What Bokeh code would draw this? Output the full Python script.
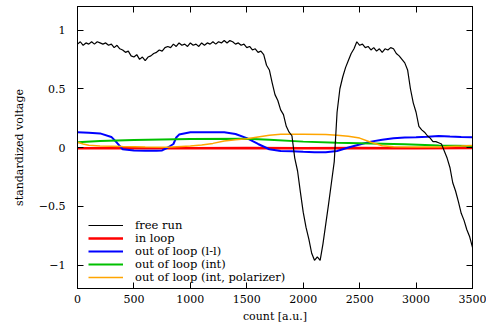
from bokeh.plotting import figure
from bokeh.models import Range1d, FixedTicker, LinearAxis, Legend, LegendItem
from bokeh.embed import file_html
from bokeh.resources import INLINE

# ---- data ----
free_x = list(range(0, 3501, 25))
free_y = [0.88, 0.90, 0.87, 0.89, 0.88, 0.90, 0.88, 0.90, 0.89, 0.88,
          0.89, 0.87, 0.88, 0.85, 0.87, 0.84, 0.83, 0.81, 0.82, 0.78,
          0.77, 0.79, 0.75, 0.77, 0.74, 0.77, 0.78, 0.80, 0.81, 0.83,
          0.82, 0.85, 0.86, 0.85, 0.88, 0.86, 0.89, 0.87, 0.88, 0.86,
          0.89, 0.87, 0.88, 0.86, 0.89, 0.87, 0.89, 0.88, 0.90, 0.88,
          0.90, 0.89, 0.91, 0.89, 0.91, 0.90, 0.88, 0.89, 0.87, 0.88,
          0.85, 0.86, 0.83, 0.84, 0.81, 0.82, 0.79, 0.70, 0.66, 0.55,
          0.45, 0.40, 0.32, 0.28, 0.18, 0.13, 0.10, -0.09, -0.20, -0.38,
          -0.55, -0.68, -0.78, -0.90, -0.96, -0.93, -0.96, -0.82, -0.65, -0.48,
          -0.30, -0.12, 0.30, 0.50, 0.60, 0.68, 0.74, 0.80, 0.84, 0.90,
          0.87, 0.88, 0.85, 0.86, 0.83, 0.85, 0.82, 0.84, 0.81, 0.84,
          0.83, 0.85, 0.84, 0.80, 0.78, 0.75, 0.72, 0.66, 0.50, 0.38,
          0.30, 0.18, 0.15, 0.13, 0.10, 0.08, 0.05, 0.05, 0.04, 0.03,
          -0.03, -0.09, -0.17, -0.30, -0.37, -0.46, -0.56, -0.62, -0.70, -0.76,
          -0.85]

inloop_x = [0, 500, 1000, 1500, 2000, 2500, 3000, 3500]
inloop_y = [-0.006, -0.007, -0.006, -0.005, -0.006, -0.005, -0.006, -0.005]

ll_x = [0, 100, 200, 300, 350, 400, 500, 600, 700, 750, 800, 850, 875, 900,
        1000, 1100, 1200, 1300, 1400, 1500, 1600, 1700, 1800, 1900, 2000,
        2100, 2200, 2300, 2400, 2500, 2600, 2700, 2800, 2900, 3000, 3100,
        3200, 3300, 3400, 3500]
ll_y = [0.13, 0.125, 0.12, 0.09, 0.04, -0.015, -0.025, -0.027, -0.028, -0.025,
        0.0, 0.03, 0.085, 0.11, 0.13, 0.13, 0.13, 0.13, 0.115, 0.08, 0.03,
        -0.015, -0.03, -0.032, -0.037, -0.04, -0.04, -0.03, 0.0, 0.025, 0.05,
        0.065, 0.078, 0.085, 0.088, 0.092, 0.097, 0.093, 0.09, 0.088]

int_x = [0, 200, 500, 1000, 1500, 1700, 2000, 2300, 2600, 2900, 3200, 3500]
int_y = [0.045, 0.055, 0.063, 0.072, 0.074, 0.065, 0.05, 0.04, 0.033, 0.027,
         0.018, 0.012]

pol_x = [0, 50, 100, 200, 400, 600, 800, 1000, 1100, 1200, 1300, 1400, 1500,
         1600, 1700, 1800, 2000, 2200, 2300, 2400, 2500, 2600, 2700, 2800,
         3000, 3200, 3400, 3500]
pol_y = [0.045, 0.03, 0.02, 0.013, 0.008, 0.005, 0.003, 0.012, 0.022, 0.035,
         0.055, 0.065, 0.075, 0.09, 0.105, 0.112, 0.112, 0.11, 0.105, 0.095,
         0.08, 0.045, 0.015, 0.007, 0.004, 0.005, 0.012, 0.018]

labels = ["free run", "in loop", "out of loop (l-l)", "out of loop (int)",
          "out of loop (int, polarizer)"]
x_ticks = [0, 500, 1000, 1500, 2000, 2500, 3000, 3500]
y_ticks = [-1, -0.5, 0, 0.5, 1]
y_tick_labels = {-1: "\u22121", -0.5: "\u22120.5", 0: "0", 0.5: "0.5", 1: "1"}

FONT = "DejaVu Serif"

p = figure(width=486, height=327, output_backend="svg", toolbar_location=None,
           x_range=Range1d(0, 3500), y_range=Range1d(-1.2, 1.2),
           min_border_left=77, min_border_right=14, min_border_top=6,
           min_border_bottom=39)
p.grid.visible = False
p.outline_line_color = "black"
p.outline_line_width = 1
p.background_fill_color = "white"
p.border_fill_color = "white"

r_in = p.line(inloop_x, inloop_y, color="#ff0000", line_width=2.5)
r_ll = p.line(ll_x, ll_y, color="#0000ff", line_width=2)
r_int = p.line(int_x, int_y, color="#00c000", line_width=2)
r_pol = p.line(pol_x, pol_y, color="#ffa500", line_width=1.5)
r_free = p.line(free_x, free_y, color="black", line_width=1.2)


def style_axis(ax):
    ax.axis_line_color = "black"
    ax.major_tick_in = 6
    ax.major_tick_out = 0
    ax.minor_tick_in = 0
    ax.minor_tick_out = 0
    ax.major_tick_line_color = "black"
    ax.major_label_text_font = FONT
    ax.major_label_text_color = "black"
    ax.axis_label_text_font = FONT
    ax.axis_label_text_font_style = "normal"
    ax.axis_label_text_color = "black"


xa = p.xaxis[0]
ya = p.yaxis[0]
xa.ticker = FixedTicker(ticks=x_ticks)
ya.ticker = FixedTicker(ticks=y_ticks)
ya.major_label_overrides = y_tick_labels
style_axis(xa)
style_axis(ya)
xa.major_label_text_font_size = "11px"
ya.major_label_text_font_size = "11px"
xa.axis_label = "count [a.u.]"
ya.axis_label = "standardized voltage"
xa.axis_label_text_font_size = "11px"
ya.axis_label_text_font_size = "11px"
xa.major_label_standoff = 6
ya.major_label_standoff = 12
xa.axis_label_standoff = 4
ya.axis_label_standoff = 10

# mirrored tick marks on top and right (no labels)
top = LinearAxis(ticker=FixedTicker(ticks=x_ticks))
right = LinearAxis(ticker=FixedTicker(ticks=y_ticks))
style_axis(top)
style_axis(right)
top.major_label_overrides = {t: "" for t in x_ticks}
right.major_label_overrides = {t: "" for t in y_ticks}
top.major_label_standoff = 0
right.major_label_standoff = 0
p.add_layout(top, "above")
p.add_layout(right, "right")

# one legend per row so the rows can sit as close as in the reference
renderers = [r_free, r_in, r_ll, r_int, r_pol]
row_offsets = [56, 43, 30, 17, 4]
for lab, ren, off in zip(labels, renderers, row_offsets):
    lg = Legend(items=[LegendItem(label=lab, renderers=[ren])], location=(11, off))
    lg.label_text_font = FONT
    lg.label_text_font_size = "11.5px"
    lg.label_text_color = "black"
    lg.glyph_width = 35
    lg.glyph_height = 10
    lg.label_height = 10
    lg.label_standoff = 12
    lg.padding = 0
    lg.margin = 0
    lg.border_line_alpha = 0
    lg.background_fill_alpha = 0
    p.add_layout(lg, "center")

open("out.html", "w").write(file_html(p, INLINE))
